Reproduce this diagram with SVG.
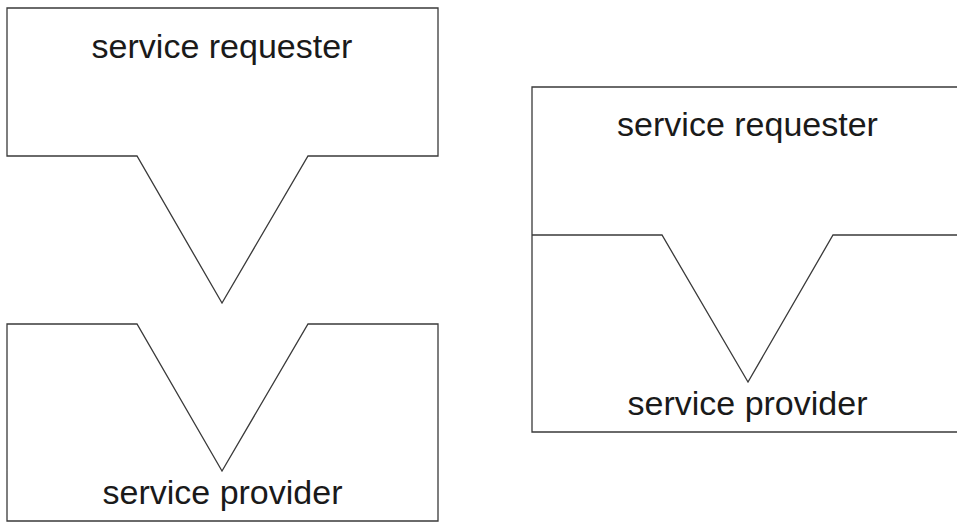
<svg xmlns="http://www.w3.org/2000/svg" width="957" height="522" viewBox="0 0 957 522">
<style>
.shape{fill:#fff;stroke:#3a3a3a;stroke-width:1.3;stroke-linejoin:miter}
.lbl{font-family:"Liberation Sans",Arial,sans-serif;font-size:34px;fill:#1a1a1a;text-anchor:middle}
</style>
<rect width="957" height="522" fill="#fff"/>
<g id="requester-left">
<path class="shape" d="M7,8 H438 V156 H308 L222,303 L137,156 H7 Z"/>
<text class="lbl" x="222" y="58">service requester</text>
</g>
<g id="provider-left">
<path class="shape" d="M7,324 H137 L222,471 L308,324 H438 V521 H7 Z"/>
<text class="lbl" x="222.5" y="504">service provider</text>
</g>
<g id="combined-right">
<path class="shape" d="M532,87 H962 V432 H532 Z"/>
<path class="shape" fill="none" d="M532,235 H662 L748,382 L833,235 H962"/>
<text class="lbl" x="747.5" y="136">service requester</text>
<text class="lbl" x="747.5" y="415">service provider</text>
</g>
<g id="connectors"></g>
</svg>
